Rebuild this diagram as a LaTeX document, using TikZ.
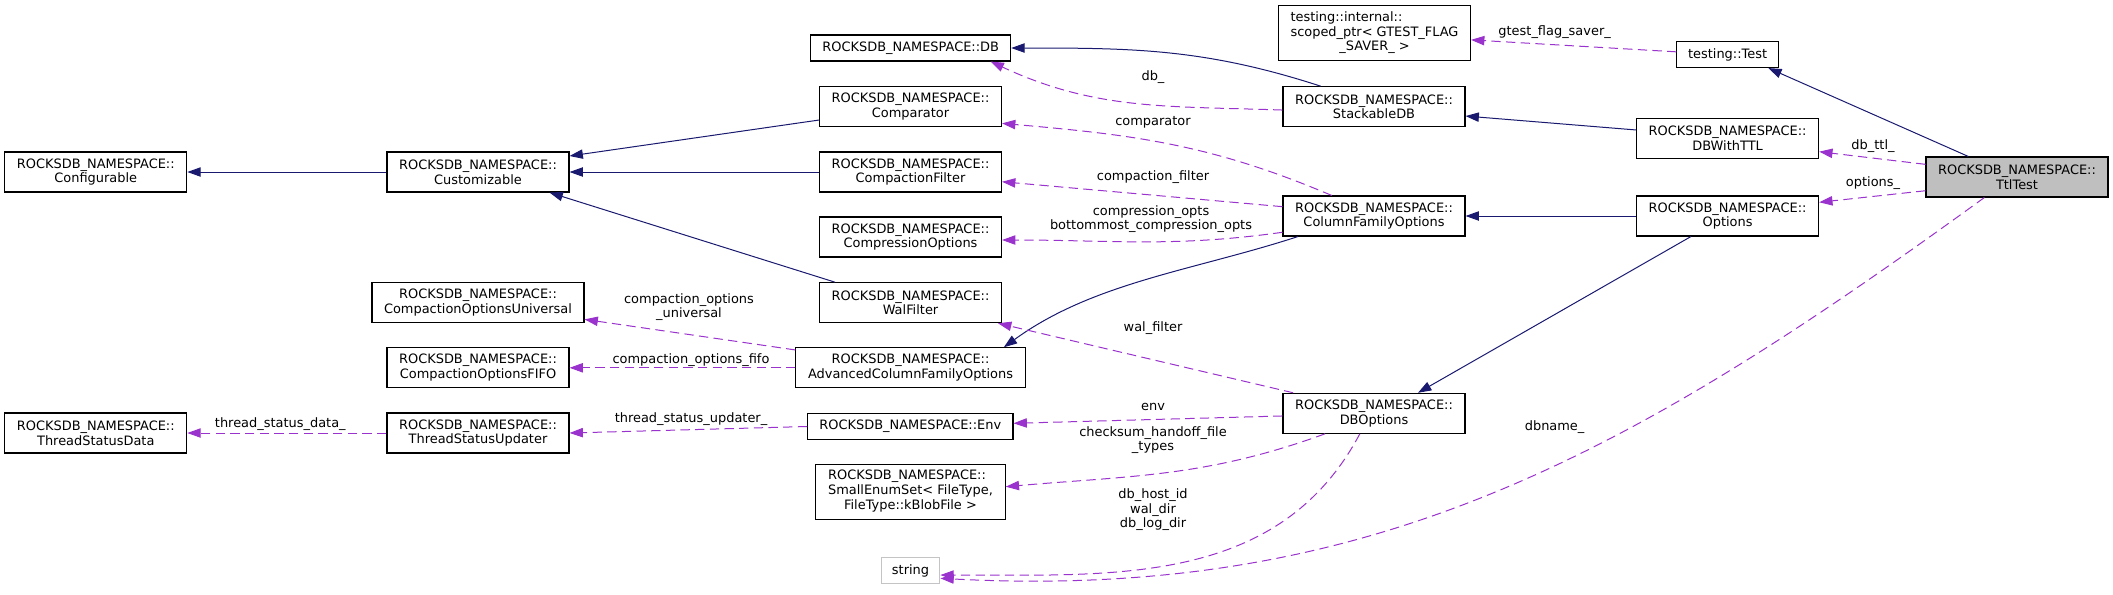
\documentclass[tikz,border=0pt]{standalone}
\usepackage{fontspec}
\setmainfont{DejaVu Sans}
\usepackage{xcolor}
\usepackage{tikz}
\usetikzlibrary{arrows.meta, positioning, calc}
\definecolor{C_INH} {HTML}{191970}
\definecolor{C_USE} {HTML}{9A32CD}
\definecolor{C_MAIN}{HTML}{BFBFBF}
\definecolor{C_EXT} {HTML}{C4C4C4}
\tikzset{
  %% -- class box --
  cls/box/.style={
    draw=black, line width=0.8pt, fill=white,
    minimum width=136.5pt, minimum height=30pt,
    inner sep=0pt, align=center
  },
  %% -- one line class box --
  cls/slim/.style={cls/box, minimum height=19.5pt},
  %% -- the class the graph is about --
  cls/main/.style={cls/box, fill=C_MAIN},
  %% -- class without documentation --
  cls/ext/.style={cls/box, draw=C_EXT},
  %% -- inheritance --
  rel/inh/.style={-{Triangle[length=10pt,width=7pt]}, line width=0.75pt, color=C_INH},
  %% -- usage (member) --
  rel/use/.style={-{Triangle[length=10pt,width=7pt]}, line width=0.75pt, color=C_USE,
    dash pattern=on 7pt off 4pt},
  %% -- member name --
  rel/lbl/.style={inner sep=0pt, align=center},
}

\begin{document}
\begin{tikzpicture}[
  every node/.style={font=\fontsize{9.7}{11}\selectfont},
  x=0.75pt, y=-0.75pt,
]
\useasboundingbox (0,0) rectangle (2113,594);

%% Nodes
\node[cls/box] (conf)   at (95.8,172)
  {ROCKSDB\_NAMESPACE::\\Configurable};
\node[cls/box] (cust)   at (478,172)
  {ROCKSDB\_NAMESPACE::\\Customizable};
\node[cls/box, minimum width=159pt] (univ) at (478,302.7)
  {ROCKSDB\_NAMESPACE::\\CompactionOptionsUniversal};
\node[cls/box] (fifo)   at (478,367.8)
  {ROCKSDB\_NAMESPACE::\\CompactionOptionsFIFO};
\node[cls/box] (tsdata) at (95.8,433)
  {ROCKSDB\_NAMESPACE::\\ThreadStatusData};
\node[cls/box] (tsupd)  at (478,433)
  {ROCKSDB\_NAMESPACE::\\ThreadStatusUpdater};

\node[cls/slim, minimum width=150pt] (db) at (910.7,48)
  {ROCKSDB\_NAMESPACE::DB};
\node[cls/box] (cmp)    at (910.5,106.7)
  {ROCKSDB\_NAMESPACE::\\Comparator};
\node[cls/box] (cfilt)  at (910.5,172)
  {ROCKSDB\_NAMESPACE::\\CompactionFilter};
\node[cls/box] (copts)  at (910.5,237)
  {ROCKSDB\_NAMESPACE::\\CompressionOptions};
\node[cls/box] (wal)    at (910.5,302.7)
  {ROCKSDB\_NAMESPACE::\\WalFilter};
\node[cls/box, minimum width=172pt] (acfo) at (910.5,367.8)
  {ROCKSDB\_NAMESPACE::\\AdvancedColumnFamilyOptions};
\node[cls/slim, minimum width=154pt] (env) at (910.3,426.5)
  {ROCKSDB\_NAMESPACE::Env};
\node[cls/box, minimum width=142pt, minimum height=41.25pt] (enumset) at (910.5,491.7)
  {\begin{tabular}{@{}l@{}}ROCKSDB\_NAMESPACE::\\SmallEnumSet< FileType,\\
   \multicolumn{1}{@{}c@{}}{FileType::kBlobFile >}\end{tabular}};
\node[cls/ext, minimum width=44pt, minimum height=19.5pt] (str) at (910.5,570.5)
  {string};

\node[cls/box, minimum width=144pt, minimum height=41.25pt] (scoped) at (1374.5,33.2)
  {\begin{tabular}{@{}l@{}}testing::internal::\\scoped\_ptr< GTEST\_FLAG\\
   \multicolumn{1}{@{}c@{}}{\_SAVER\_ >}\end{tabular}};
\node[cls/box] (stack)  at (1374,106.7)
  {ROCKSDB\_NAMESPACE::\\StackableDB};
\node[cls/box] (cfo)    at (1374,216)
  {ROCKSDB\_NAMESPACE::\\ColumnFamilyOptions};
\node[cls/box] (dbo)    at (1374,413.3)
  {ROCKSDB\_NAMESPACE::\\DBOptions};

\node[cls/slim, minimum width=76pt] (test) at (1727.6,54.5)
  {testing::Test};
\node[cls/box] (dbttl)  at (1727.6,138.5)
  {ROCKSDB\_NAMESPACE::\\DBWithTTL};
\node[cls/box] (opts)   at (1727.6,216)
  {ROCKSDB\_NAMESPACE::\\Options};
\node[cls/main] (ttl)   at (2017,177)
  {ROCKSDB\_NAMESPACE::\\TtlTest};

%% Inheritance
\draw[rel/inh] (cust.west) -- (conf.east);
\draw[rel/inh] ([yshift=-10pt]cmp.west) -- ([yshift=12pt]cust.east);
\draw[rel/inh] (cfilt.west) -- (cust.east);
\draw[rel/inh] ([xshift=12pt]wal.north west) -- ([xshift=-15pt]cust.south east);
\draw[rel/inh] ([xshift=-40pt]stack.north) to[out=162,in=0] (db.east);
\draw[rel/inh] ([yshift=6.4pt]dbttl.west) -- ([yshift=-7pt]stack.east);
\draw[rel/inh] (opts.west) -- (cfo.east);
\draw[rel/inh] ([xshift=-36.5pt]ttl.north) -- ([xshift=30.5pt]test.south);
\draw[rel/inh] ([xshift=-27.5pt]opts.south) -- ([xshift=33pt]dbo.north);
\draw[rel/inh] ([xshift=-57pt]cfo.south) to[out=-162,in=36,looseness=0.9] ([xshift=70pt]acfo.north);

%% Members
\draw[rel/use] ([yshift=2pt]test.west) -- ([yshift=-5pt]scoped.east);
\draw[rel/use] ([yshift=-2.5pt]stack.west) to[out=178,in=-25] ([xshift=-15.5pt]db.south east);
\draw[rel/use] ([xshift=-31.7pt]cfo.north) to[out=157,in=-5] ([yshift=-12.5pt]cmp.east);
\draw[rel/use] ([yshift=7pt]cfo.west) -- ([yshift=-7.3pt]cfilt.east);
\draw[rel/use] ([yshift=-12.2pt]cfo.west) to[out=-172,in=0] ([yshift=-2.25pt]copts.east);
\draw[rel/use] ([yshift=-2pt]acfo.north west) -- ([yshift=-12.5pt]univ.east);
\draw[rel/use] (acfo.west) -- (fifo.east);
\draw[rel/use] (tsupd.west) -- (tsdata.east);
\draw[rel/use] (env.west) -- (tsupd.east);
\draw[rel/use] ([xshift=8pt]dbo.north west) -- ([xshift=-3pt]wal.south east);
\draw[rel/use] ([yshift=-2pt]dbo.west) -- ([yshift=2.4pt]env.east);
\draw[rel/use] ([xshift=-36.75pt]dbo.south) to[out=-160,in=5] ([yshift=3.75pt]enumset.east);
\draw[rel/use] ([xshift=-10.65pt]dbo.south) to[out=-118,in=0] ([yshift=-3.4pt]str.east);
\draw[rel/use] ([xshift=-24.5pt]ttl.south) to[out=-144,in=-3] ([yshift=-5.85pt]str.east);
\draw[rel/use] ([yshift=9.5pt]ttl.west) -- ([yshift=-9.9pt]dbttl.east);
\draw[rel/use] ([yshift=-10.3pt]ttl.west) -- ([yshift=10.3pt]opts.east);

%% Member names
\node[rel/lbl] (l-gtest) at (1554.6,32.3) {gtest\_flag\_saver\_};
\node[rel/lbl] (l-db)    at (1153,76.7)   {db\_};
\node[rel/lbl] (l-cmp)   at (1153,122.7)  {comparator};
\node[rel/lbl] (l-cfilt) at (1153,176.7)  {compaction\_filter};
\node[rel/lbl] (l-copts) at (1151,219.2)
  {compression\_opts\\bottommost\_compression\_opts};
\node[rel/lbl] (l-univ)  at (689,307)     {compaction\_options\\\_universal};
\node[rel/lbl] (l-fifo)  at (691,360)     {compaction\_options\_fifo};
\node[rel/lbl] (l-tsd)   at (280.3,424.3) {thread\_status\_data\_};
\node[rel/lbl] (l-tsu)   at (691,419.3)   {thread\_status\_updater\_};
\node[rel/lbl] (l-wal)   at (1153,328.3)  {wal\_filter};
\node[rel/lbl] (l-env)   at (1153,407.3)  {env};
\node[rel/lbl] (l-sum)   at (1153,440)    {checksum\_handoff\_file\\\_types};
\node[rel/lbl] (l-dir)   at (1153,509.8)  {db\_host\_id\\wal\_dir\\db\_log\_dir};
\node[rel/lbl] (l-name)  at (1554.6,426.7) {dbname\_};
\node[rel/lbl] (l-ttl)   at (1873,146)    {db\_ttl\_};
\node[rel/lbl] (l-opt)   at (1873,183.3)  {options\_};
\end{tikzpicture}
\end{document}
